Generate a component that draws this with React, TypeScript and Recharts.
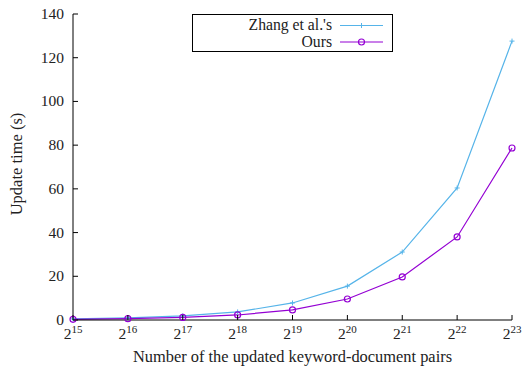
import React from 'react';
import { LineChart, Line, XAxis, YAxis, Label } from 'recharts';

const exponents = [15, 16, 17, 18, 19, 20, 21, 22, 23];
const zhangTimes = [0.5, 1.0, 1.9, 3.7, 7.8, 15.5, 31.1, 60.4, 127.6];
const oursTimes = [0.3, 0.6, 1.2, 2.3, 4.6, 9.6, 19.7, 38.0, 78.7];
const yTicks = [0, 20, 40, 60, 80, 100, 120, 140];
const seriesNames = ["Zhang et al.'s", 'Ours'];
const xTitle = 'Number of the updated keyword-document pairs';
const yTitle = 'Update time (s)';

const data = exponents.map((e, i) => ({ e, zhang: zhangTimes[i], ours: oursTimes[i] }));

const BLUE = '#56B4E9';
const PURPLE = '#9400D3';
const FONT = "'Liberation Serif', 'DejaVu Serif', serif";
const TS = { fontFamily: FONT };
const TICK = 5;
const TEXT = '#222';

const BottomTick = (p: any) => {
  const { x, y, payload } = p;
  return (
    <g>
      <line x1={x} y1={y} x2={x} y2={y - TICK} stroke="#000" strokeWidth={1} />
      <text x={x} y={y + 19} textAnchor="middle" style={TS} fontSize={15.5} fill={TEXT}>
        2<tspan dy={-6} fontSize={11}>{payload.value}</tspan>
      </text>
    </g>
  );
};

const TopTick = (p: any) => {
  const { x, y } = p;
  return <line x1={x} y1={y} x2={x} y2={y + TICK} stroke="#000" strokeWidth={1} />;
};

const LeftTick = (p: any) => {
  const { x, y, payload } = p;
  return (
    <g>
      <line x1={x} y1={y} x2={x + TICK} y2={y} stroke="#000" strokeWidth={1} />
      <text x={x - 9} y={y + 5} textAnchor="end" style={TS} fontSize={15.5} fill={TEXT}>
        {payload.value}
      </text>
    </g>
  );
};

const RightTick = (p: any) => {
  const { x, y } = p;
  return <line x1={x} y1={y} x2={x - TICK} y2={y} stroke="#000" strokeWidth={1} />;
};

const PlusDot = (p: any) => {
  const { cx, cy } = p;
  if (cx == null || cy == null) return null;
  return (
    <g>
      <line x1={cx - 2.5} y1={cy} x2={cx + 2.5} y2={cy} stroke={BLUE} strokeWidth={1} />
      <line x1={cx} y1={cy - 2.5} x2={cx} y2={cy + 2.5} stroke={BLUE} strokeWidth={1} />
    </g>
  );
};

const CircleDot = (p: any) => {
  const { cx, cy } = p;
  if (cx == null || cy == null) return null;
  return <circle cx={cx} cy={cy} r={3} fill="none" stroke={PURPLE} strokeWidth={1.2} />;
};

const LegendBox = () => (
  <svg width={201} height={38} style={{ display: 'block' }}>
    <rect x={0.5} y={0.5} width={200} height={37} fill="#fff" stroke="#000" strokeWidth={1} />
    <text x={140} y={16} textAnchor="end" style={TS} fontSize={15.7} fill={TEXT}>
      {seriesNames[0]}
    </text>
    <line x1={148} y1={11.5} x2={191} y2={11.5} stroke={BLUE} strokeWidth={1.2} />
    <line x1={167} y1={11.5} x2={172} y2={11.5} stroke={BLUE} strokeWidth={1} />
    <line x1={169.5} y1={9} x2={169.5} y2={14} stroke={BLUE} strokeWidth={1} />
    <text x={140} y={33} textAnchor="end" style={TS} fontSize={15.7} fill={TEXT}>
      {seriesNames[1]}
    </text>
    <line x1={148} y1={28} x2={191} y2={28} stroke={PURPLE} strokeWidth={1.2} />
    <circle cx={169.5} cy={28} r={3} fill="none" stroke={PURPLE} strokeWidth={1.2} />
  </svg>
);

export default function App() {
  return (
    <div style={{ position: 'absolute', left: 0, top: 0, width: 528, height: 372, background: '#fff' }}>
      <LineChart
        width={528}
        height={372}
        data={data}
        margin={{ top: 14, right: 16, bottom: 0, left: 0 }}
      >
        <XAxis
          xAxisId="b"
          dataKey="e"
          type="number"
          domain={[15, 23]}
          ticks={exponents}
          height={52}
          axisLine={{ stroke: '#000', strokeWidth: 1 }}
          tickLine={false}
          tickSize={0}
          tickMargin={0}
          tick={<BottomTick />}
          interval={0}
        >
          <Label
            content={() => (
              <text x={292.5} y={362} textAnchor="middle" style={TS} fontSize={16.4} fill={TEXT}>
                {xTitle}
              </text>
            )}
          />
        </XAxis>
        <XAxis
          xAxisId="t"
          orientation="top"
          dataKey="e"
          type="number"
          domain={[15, 23]}
          ticks={exponents}
          height={0}
          axisLine={{ stroke: '#000', strokeWidth: 1 }}
          tickLine={false}
          tickSize={0}
          tickMargin={0}
          tick={<TopTick />}
          interval={0}
        />
        <YAxis
          yAxisId="l"
          domain={[0, 140]}
          ticks={yTicks}
          width={73}
          axisLine={{ stroke: '#000', strokeWidth: 1 }}
          tickLine={false}
          tickSize={0}
          tickMargin={0}
          tick={<LeftTick />}
          interval={0}
        >
          <Label
            content={() => (
              <text
                x={22}
                y={164}
                transform="rotate(-90 22 164)"
                textAnchor="middle"
                style={TS}
                fontSize={16.5}
                fill={TEXT}
              >
                {yTitle}
              </text>
            )}
          />
        </YAxis>
        <YAxis
          yAxisId="r"
          orientation="right"
          domain={[0, 140]}
          ticks={yTicks}
          width={0}
          axisLine={{ stroke: '#000', strokeWidth: 1 }}
          tickLine={false}
          tickSize={0}
          tickMargin={0}
          tick={<RightTick />}
          interval={0}
        />
        <Line
          xAxisId="b"
          yAxisId="l"
          dataKey="zhang"
          name={seriesNames[0]}
          stroke={BLUE}
          strokeWidth={1.2}
          dot={<PlusDot />}
          isAnimationActive={false}
        />
        <Line
          xAxisId="b"
          yAxisId="l"
          dataKey="ours"
          name={seriesNames[1]}
          stroke={PURPLE}
          strokeWidth={1.2}
          dot={<CircleDot />}
          isAnimationActive={false}
        />
      </LineChart>
      <div style={{ position: 'absolute', left: 192, top: 14 }}>
        <LegendBox />
      </div>
    </div>
  );
}
